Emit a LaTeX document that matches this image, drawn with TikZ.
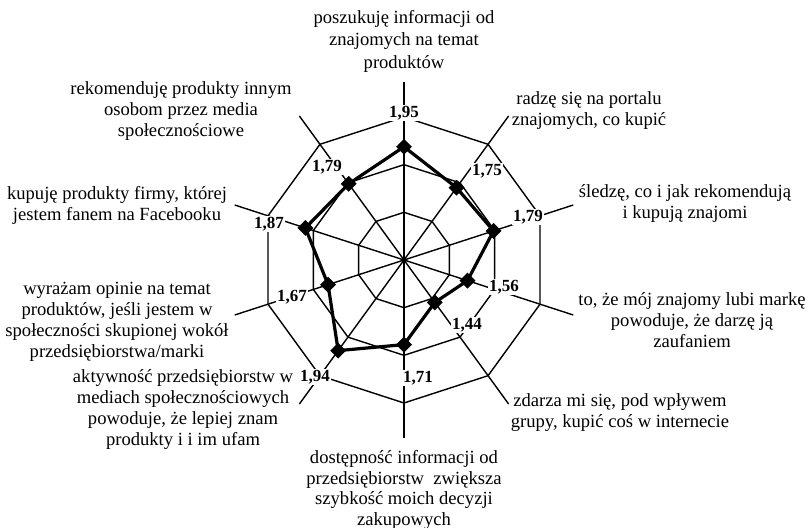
\documentclass[tikz,border=0pt]{standalone}
\usepackage{fontspec}
\setmainfont{Liberation Serif}
\usetikzlibrary{shapes.geometric,calc}
\begin{document}
\begin{tikzpicture}[x=1pt,y=1pt,
  gridline/.style={line width=1.4pt},
  axisline/.style={line width=1.4pt},
  dataline/.style={line width=3.2pt, line join=miter},
  datamark/.style={shape=diamond, fill=black, draw=none, minimum width=16pt, minimum height=16pt, inner sep=0pt},
  vallabel/.style={font=\fontsize{17}{19}\selectfont\bfseries, fill=white, inner sep=1pt},
  catlabel/.style={align=center, font=\fontsize{18.6}{21}\selectfont, inner sep=0pt}
]
\useasboundingbox (0,0) rectangle (807,528);
\fill[white] (0,0) rectangle (807,528);
\coordinate (C) at (404,268);
% grid rings
\foreach \r in {47.667,95.333,143}{
  \draw[gridline, shift={(404,268)}] (90:\r) -- (54:\r) -- (18:\r) -- (-18:\r) -- (-54:\r) -- (-90:\r) -- (-126:\r) -- (-162:\r) -- (162:\r) -- (126:\r) -- cycle;
}
% axes
\foreach \i/\a in {1/90,2/54,3/18,4/-18,5/-54,6/-90,7/-126,8/-162,9/162,10/126}{
  \coordinate (ax\i) at ($(C)+(\a:178)$);
}
\foreach \i in {1,...,10}{ \draw[axisline] (C) -- (ax\i); }
% data points (scale: 1.0 at centre, 2.2 at outer ring)
\foreach \i/\a/\v in {1/90/1.95,2/54/1.75,3/18/1.79,4/-18/1.56,5/-54/1.44,6/-90/1.71,7/-126/1.94,8/-162/1.67,9/162/1.87,10/126/1.79}{
  \pgfmathsetmacro{\rr}{(\v-1.0)*143/1.2}
  \coordinate (d\i) at ($(C)+(\a:\rr)$);
}
\draw[dataline] (d1) -- (d2) -- (d3) -- (d4) -- (d5) -- (d6) -- (d7) -- (d8) -- (d9) -- (d10) -- cycle;
\foreach \i in {1,...,10}{ \node[datamark] (m\i) at (d\i) {}; }
% value labels
\node[vallabel] (v1) at (404,415) {1,95};
\node[vallabel] (v2) at (487,357) {1,75};
\node[vallabel] (v3) at (528,311) {1,79};
\node[vallabel] (v4) at (504,241) {1,56};
\node[vallabel] (v5) at (467,203) {1,44};
\node[vallabel] (v6) at (418,150) {1,71};
\node[vallabel] (v7) at (315,151) {1,94};
\node[vallabel] (v8) at (292,231) {1,67};
\node[vallabel] (v9) at (269,304) {1,87};
\node[vallabel] (v10) at (327,361) {1,79};
% category labels
\node[catlabel, font=\fontsize{18.6}{22.5}\selectfont] (c1) at (404,487) {poszukuję informacji od\\znajomych na temat\\produktów};
\node[catlabel] (c2) at (589,417) {radzę się na portalu\\znajomych, co kupić};
\node[catlabel] (c3) at (685,324) {śledzę, co i jak rekomendują\\i kupują znajomi};
\node[catlabel] (c4) at (692,208) {to, że mój znajomy lubi markę\\powoduje, że darzę ją\\zaufaniem};
\node[catlabel] (c5) at (620,115) {zdarza mi się, pod wpływem\\grupy, kupić coś w internecie};
\node[catlabel, font=\fontsize{18.6}{20.5}\selectfont] (c6) at (404,38) {dostępność informacji od\\przedsiębiorstw\ \ zwiększa\\szybkość moich decyzji\\zakupowych};
\node[catlabel] (c7) at (183,118) {aktywność przedsiębiorstw w\\mediach społecznościowych\\powoduje, że lepiej znam\\produkty i i im ufam};
\node[catlabel] (c8) at (117,206) {wyrażam opinie na temat\\produktów, jeśli jestem w\\społeczności skupionej wokół\\przedsiębiorstwa/marki};
\node[catlabel] (c9) at (117,323) {kupuję produkty firmy, której\\jestem fanem na Facebooku};
\node[catlabel] (c10) at (181,417) {rekomenduję produkty innym\\osobom przez media\\społecznościowe};
\end{tikzpicture}
\end{document}
